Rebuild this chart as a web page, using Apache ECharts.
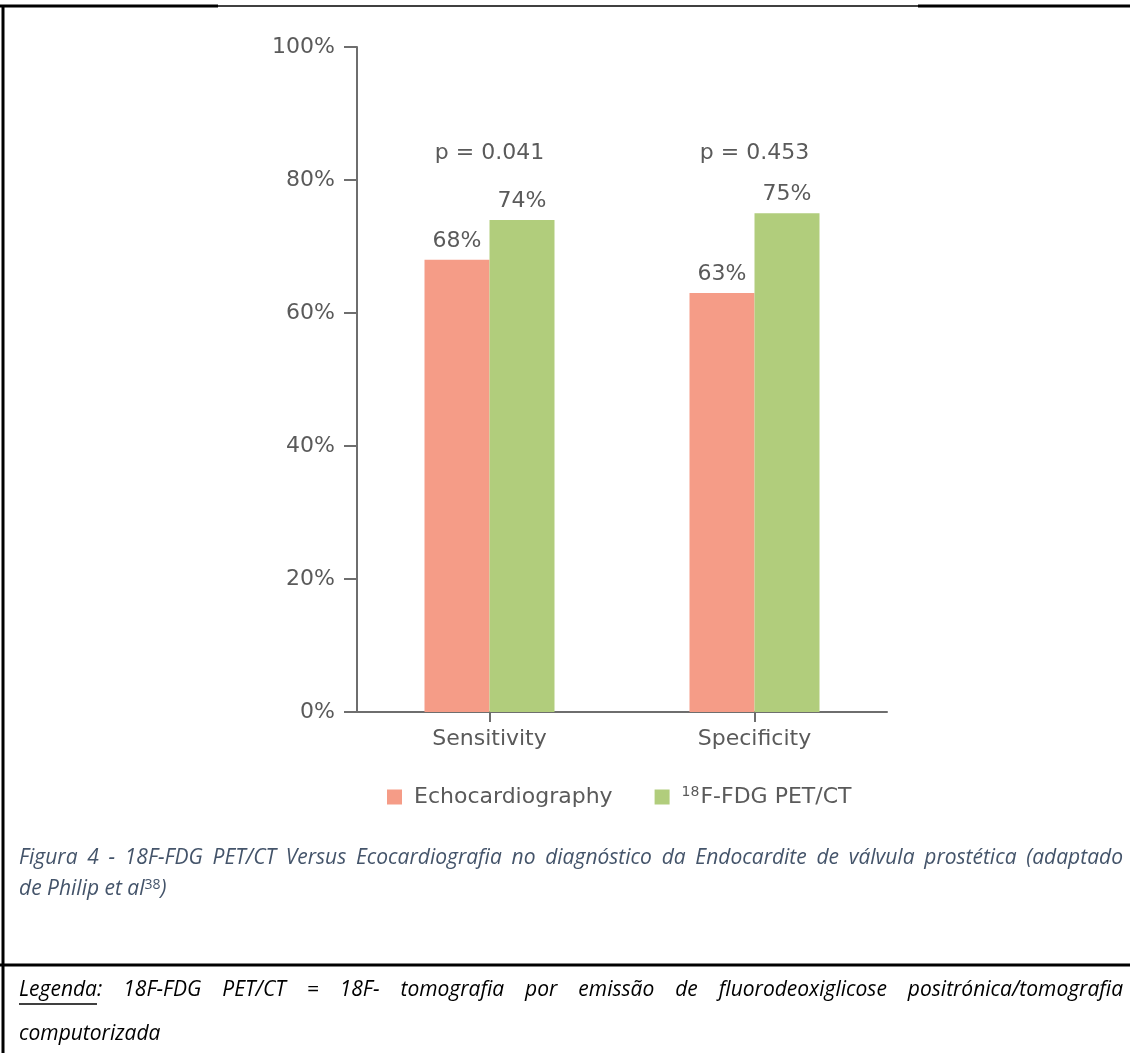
<!DOCTYPE html>
<html>
<head>
<meta charset="utf-8">
<script src="https://cdn.jsdelivr.net/npm/echarts@6/dist/echarts.min.js"></script>
<style>
  html, body { margin: 0; padding: 0; background: #ffffff; }
  #chart { width: 1130px; height: 1053px; }
</style>
</head>
<body>
<div id="chart"></div>
<script>
// ---- data ----
const categories = ['Sensitivity', 'Specificity'];
const echoValues = [68, 63];
const petValues = [74, 75];
const pValueLabels = ['p = 0.041', 'p = 0.453'];
const yTicks = [0, 20, 40, 60, 80, 100];
const seriesNames = ['Echocardiography', '18F-FDG PET/CT'];

// ---- caption texts ----
const captionLine1 = 'Figura 4 - 18F-FDG PET/CT Versus Ecocardiografia no diagnóstico da Endocardite de válvula prostética (adaptado';
const captionLine2 = ['de Philip et al', '38', ')'];
const legendaWord = 'Legenda';
const legendaLine1 = 'Legenda: 18F-FDG PET/CT = 18F- tomografia por emissão de fluorodeoxiglicose positrónica/tomografia';
const legendaLine2 = 'computorizada';

const chartFont = '"DejaVu Sans", "Noto Sans", sans-serif';
const noteFont = '"Open Sans", "Noto Sans", sans-serif';
const textGrey = '#5a5a5a';
const axisGrey = '#6e6e6e';
const echoColor = '#F59C87';
const petColor = '#B1CD7C';
const captionColor = '#44546A';
const noteSize = 21;

// measure text with a canvas so justified lines can be spread across the width
const measureCtx = document.createElement('canvas').getContext('2d');
function textWidth(str, size) {
  measureCtx.font = 'italic ' + size + 'px ' + noteFont;
  return measureCtx.measureText(str).width;
}

function justifiedLine(line, x0, x1, y, size, color) {
  const words = line.split(' ');
  const widths = words.map(w => textWidth(w, size));
  const total = widths.reduce((a, b) => a + b, 0);
  const gap = (x1 - x0 - total) / (words.length - 1);
  const out = [];
  let x = x0;
  words.forEach((w, i) => {
    out.push({
      type: 'text', x: x, y: y,
      style: {
        text: w, fontSize: size, fontStyle: 'italic', fontFamily: noteFont,
        fill: color, verticalAlign: 'middle', align: 'left'
      }
    });
    x += widths[i] + gap;
  });
  return out;
}

const graphics = [];

// page frame: top rule, left rule and separator above the legend note
graphics.push(
  { type: 'line', shape: { x1: 0, y1: 6, x2: 218, y2: 6 }, style: { stroke: '#000', lineWidth: 3 } },
  { type: 'line', shape: { x1: 218, y1: 6, x2: 918, y2: 6 }, style: { stroke: '#000', lineWidth: 1.5 } },
  { type: 'line', shape: { x1: 918, y1: 6, x2: 1130, y2: 6 }, style: { stroke: '#000', lineWidth: 3 } },
  { type: 'line', shape: { x1: 3, y1: 5, x2: 3, y2: 1053 }, style: { stroke: '#000', lineWidth: 3 } },
  { type: 'line', shape: { x1: 0, y1: 965, x2: 1130, y2: 965 }, style: { stroke: '#000', lineWidth: 3 } }
);

// figure caption
graphics.push(...justifiedLine(captionLine1, 19, 1123, 858, noteSize, captionColor));
graphics.push({
  type: 'text', x: 19, y: 889,
  style: {
    text: '{a|' + captionLine2[0] + '}{s|' + captionLine2[1] + '}{a|' + captionLine2[2] + '}',
    verticalAlign: 'middle', align: 'left',
    rich: {
      a: { fontSize: noteSize, fontStyle: 'italic', fontFamily: noteFont, fill: captionColor, color: captionColor },
      s: { fontSize: 14, fontFamily: noteFont, fill: captionColor, color: captionColor, verticalAlign: 'top', padding: [0, 0, 8, 0] }
    }
  }
});

// legend note
graphics.push(...justifiedLine(legendaLine1, 19, 1123, 990, noteSize, '#000'));
const legendaW = textWidth(legendaWord, noteSize);
graphics.push({ type: 'line', shape: { x1: 19, y1: 1004, x2: 19 + legendaW, y2: 1004 }, style: { stroke: '#000', lineWidth: 1.5 } });
graphics.push({
  type: 'text', x: 19, y: 1034,
  style: { text: legendaLine2, fontSize: noteSize, fontStyle: 'italic', fontFamily: noteFont, fill: '#000', verticalAlign: 'middle', align: 'left' }
});

const chart = echarts.init(document.getElementById('chart'), null, { renderer: 'canvas' });

const barLabel = {
  show: true, position: 'top', distance: 8,
  formatter: '{c}%', color: textGrey, fontSize: 22, fontFamily: chartFont
};

chart.setOption({
  animation: false,
  backgroundColor: '#ffffff',
  grid: { left: 357, right: 243, top: 47, bottom: 341, containLabel: false },
  legend: {
    data: seriesNames,
    left: 382, top: 780,
    itemWidth: 15, itemHeight: 15, itemGap: 42,
    icon: 'rect',
    textStyle: {
      color: textGrey, fontSize: 22, fontFamily: chartFont,
      rich: {
        sup: { fontSize: 14, color: textGrey, fontFamily: chartFont, verticalAlign: 'top', padding: [0, 1, 10, 7] },
        t: { fontSize: 22, color: textGrey, fontFamily: chartFont },
        p: { fontSize: 22, color: textGrey, fontFamily: chartFont, padding: [0, 0, 0, 7] }
      }
    },
    formatter: function (name) {
      if (name === seriesNames[1]) return '{sup|18}{t|' + name.slice(2) + '}';
      return '{p|' + name + '}';
    }
  },
  xAxis: {
    type: 'category',
    data: categories,
    axisLine: { show: true, lineStyle: { color: axisGrey, width: 2 } },
    axisTick: { show: true, alignWithLabel: true, length: 10, lineStyle: { color: axisGrey, width: 2 } },
    axisLabel: { color: textGrey, fontSize: 22, fontFamily: chartFont, margin: 16 },
    splitLine: { show: false }
  },
  yAxis: {
    type: 'value',
    min: yTicks[0], max: yTicks[yTicks.length - 1], interval: yTicks[1] - yTicks[0],
    axisLine: { show: true, lineStyle: { color: axisGrey, width: 2 } },
    axisTick: { show: true, length: 13, lineStyle: { color: axisGrey, width: 2 } },
    axisLabel: { formatter: '{value}%', color: textGrey, fontSize: 22, fontFamily: chartFont, margin: 22 },
    splitLine: { show: false }
  },
  series: [
    {
      name: seriesNames[0], type: 'bar', data: echoValues,
      barWidth: 65, barGap: '0%',
      itemStyle: { color: echoColor },
      label: barLabel
    },
    {
      name: seriesNames[1], type: 'bar', data: petValues,
      barWidth: 65, barGap: '0%',
      itemStyle: { color: petColor },
      label: barLabel
    },
    {
      // p-value annotations above each category
      type: 'scatter', symbolSize: 0, silent: true,
      itemStyle: { opacity: 1 },
      data: pValueLabels.map((p, i) => ({ value: [categories[i], 84], label: { formatter: p } })),
      label: { show: true, position: 'inside', color: textGrey, opacity: 1, fontSize: 22, fontFamily: chartFont }
    }
  ],
  graphic: graphics
});
</script>
</body>
</html>
